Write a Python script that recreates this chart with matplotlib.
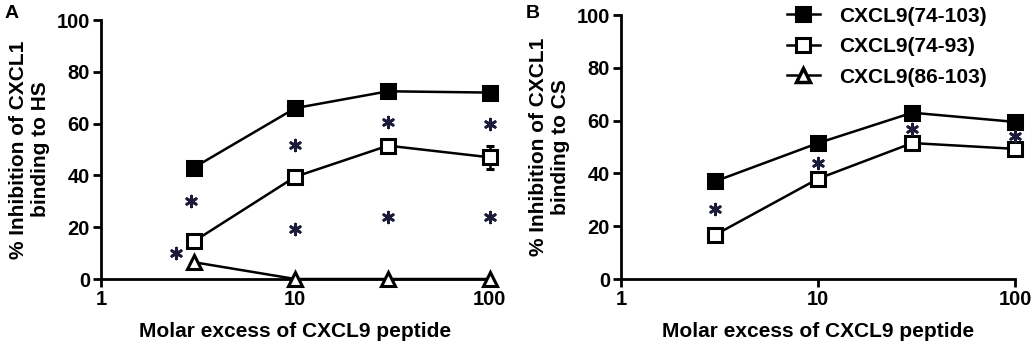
import matplotlib
matplotlib.use('Agg')
import matplotlib.pyplot as plt

plt.rcParams['font.family'] = ['Liberation Sans', 'DejaVu Sans']
plt.rcParams['font.weight'] = 'bold'

# molar excess of peptide
excess = [3, 10, 30, 100]

# panel A: binding to HS
hs_74_103 = [43, 66, 72.5, 72]
hs_74_103_err = [0, 0, 0, 1.5]
hs_74_93 = [14.5, 39.5, 51.5, 47]
hs_74_93_err = [0, 0, 0, 4.5]
hs_86_103 = [6.5, 0, 0, 0]
hs_star_x = [2.9, 2.43, 10, 10, 30, 30, 100, 100]
hs_star_y = [30, 10, 51.7, 19.3, 60.6, 24, 60, 24]

# panel B: binding to CS
cs_74_103 = [37, 51.5, 63, 59.5]
cs_74_103_err = [0, 0, 0, 2]
cs_74_93 = [16.7, 38, 51.5, 49.3]
cs_74_93_err = [0, 0, 0, 0]
cs_star_x = [3, 10, 30, 100]
cs_star_y = [26.5, 44, 57, 54]

labels = ['CXCL9(74-103)', 'CXCL9(74-93)', 'CXCL9(86-103)']
star_color = '#1c1c3a'

fig = plt.figure(figsize=(10.35, 3.46), dpi=100)
ax_a = fig.add_axes([0.0976, 0.1936, 0.3755, 0.7484])
ax_b = fig.add_axes([0.600, 0.1936, 0.381, 0.763])


def style_axes(ax, ylabel):
    ax.set_xscale('log')
    ax.set_xlim(1, 100)
    ax.set_ylim(0, 100)
    ax.set_xticks([1, 10, 100])
    ax.set_xticklabels(['1', '10', '100'])
    ax.minorticks_off()
    ax.set_yticks([0, 20, 40, 60, 80, 100])
    for side in ['top', 'right']:
        ax.spines[side].set_visible(False)
    for side in ['left', 'bottom']:
        ax.spines[side].set_linewidth(2)
    ax.tick_params(width=2, length=6, labelsize=14.5, pad=2)
    for lab in ax.get_xticklabels() + ax.get_yticklabels():
        lab.set_fontweight('bold')
    ax.set_xlabel('Molar excess of CXCL9 peptide', fontsize=15, fontweight='bold', labelpad=9)
    ax.set_ylabel(ylabel, fontsize=15, fontweight='bold', labelpad=5, linespacing=1.2)


def draw_series(ax, y, err, marker, face):
    ax.errorbar(excess, y, yerr=err, color='black', lw=1.8, marker=marker, ms=9.5,
                mfc=face, mec='black', mew=2.2, capsize=3, capthick=1.8, elinewidth=1.8,
                clip_on=False, zorder=3)


# panel A
draw_series(ax_a, hs_74_103, hs_74_103_err, 's', 'black')
draw_series(ax_a, hs_74_93, hs_74_93_err, 's', 'white')
draw_series(ax_a, hs_86_103, [0, 0, 0, 0], '^', 'white')
ax_a.scatter(hs_star_x, hs_star_y, marker=(6, 2, 0), s=60, color=star_color,
             linewidths=2, zorder=4, clip_on=False)
style_axes(ax_a, '% Inhibition of CXCL1\nbinding to HS')

# panel B
draw_series(ax_b, cs_74_103, cs_74_103_err, 's', 'black')
draw_series(ax_b, cs_74_93, cs_74_93_err, 's', 'white')
ax_b.scatter(cs_star_x, cs_star_y, marker=(6, 2, 0), s=60, color=star_color,
             linewidths=2, zorder=4, clip_on=False)
style_axes(ax_b, '% Inhibition of CXCL1\nbinding to CS')

# legend
handles = [
    plt.Line2D([], [], color='black', lw=1.8, marker='s', ms=9.5, mfc='black', mec='black', mew=2.2),
    plt.Line2D([], [], color='black', lw=1.8, marker='s', ms=9.5, mfc='white', mec='black', mew=2.2),
    plt.Line2D([], [], color='black', lw=1.8, marker='^', ms=9.5, mfc='white', mec='black', mew=2.5),
]
leg = fig.legend(handles, labels, loc='upper left', bbox_to_anchor=(0.742, 1.035),
                 frameon=False, handlelength=1.6, handletextpad=0.9, labelspacing=0.55,
                 prop={'size': 15, 'weight': 'bold'})

fig.text(0.004, 0.985, 'A', fontsize=14, fontweight='bold', va='top')
fig.text(0.508, 0.985, 'B', fontsize=14, fontweight='bold', va='top')

fig.savefig('out.png', dpi=100)
